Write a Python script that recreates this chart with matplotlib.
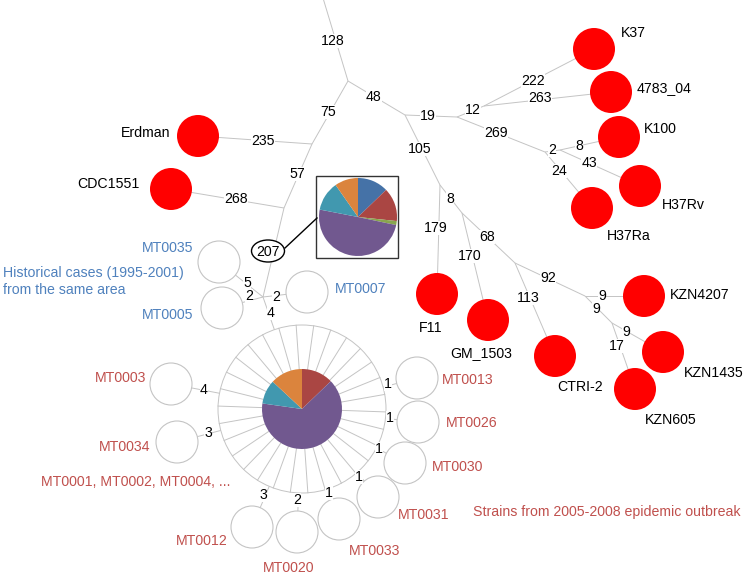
import matplotlib
matplotlib.use('Agg')
import matplotlib.pyplot as plt
from matplotlib.patches import Circle, Ellipse, Rectangle
import numpy as np

plt.rcParams['font.family'] = ['Liberation Sans', 'DejaVu Sans']

# ---------------- data ----------------
reference_strains = ['Erdman', 'CDC1551', 'K37', '4783_04', 'K100', 'H37Rv', 'H37Ra',
                     'F11', 'GM_1503', 'CTRI-2', 'KZN4207', 'KZN1435', 'KZN605']
historical_strains = ['MT0035', 'MT0005', 'MT0007']
outbreak_strains = ['MT0003', 'MT0034', 'MT0012', 'MT0020', 'MT0033',
                    'MT0031', 'MT0030', 'MT0026', 'MT0013']

# tree edges (from, to, SNP distance)
tree_edges = [
    ('top', 'J1', 128), ('J1', 'JL1', 75), ('JL1', 'Erdman', 235), ('JL1', 'JL2', 57),
    ('JL2', 'CDC1551', 268), ('JL2', 'JH', 207),
    ('J1', 'J2', 48), ('J2', 'J3', 19), ('J3', 'J4', 12), ('J4', 'K37', 222),
    ('J4', '4783_04', 263), ('J3', 'J5', 269), ('J5', 'J6', 2), ('J6', 'K100', 8),
    ('J6', 'H37Rv', 43), ('J5', 'H37Ra', 24),
    ('J2', 'J7', 105), ('J7', 'F11', 179), ('J7', 'J8', 8), ('J8', 'GM_1503', 170),
    ('J8', 'J9', 68), ('J9', 'CTRI-2', 113), ('J9', 'J10', 92), ('J10', 'KZN4207', 9),
    ('J10', 'J11', 9), ('J11', 'KZN1435', 9), ('J11', 'KZN605', 17),
    ('JH', 'MT0035', 5), ('JH', 'MT0005', 2), ('JH', 'MT0007', 2), ('JH', 'Hub', 4),
]
# outbreak strains linked to the central hub
hub_edges = [('MT0003', 4), ('MT0034', 3), ('MT0012', 3), ('MT0020', 2), ('MT0033', 1),
             ('MT0031', 1), ('MT0030', 1), ('MT0026', 1), ('MT0013', 1)]
n_hub_members = 30

# pie compositions (clockwise from 12 o'clock)
inset_pie_values = [46, 50, 6, 179, 44, 35]
hub_pie_values = [46, 232, 35, 47]

# ---------------- layout (pixels) ----------------
pos = {
    'top': (323, -2), 'J1': (348, 81), 'JL1': (312, 144), 'JL2': (284, 208), 'JH': (263, 297),
    'J2': (405, 115), 'J3': (457, 117), 'J4': (484, 106), 'J5': (545, 152), 'J6': (560, 150),
    'J7': (440, 185), 'J8': (462, 213), 'J9': (515, 263), 'J10': (585, 296), 'J11': (612, 323),
    'Erdman': (198, 136), 'CDC1551': (171, 189), 'K37': (594, 49), '4783_04': (611, 92),
    'K100': (619, 137), 'H37Rv': (640, 186), 'H37Ra': (592, 208), 'F11': (437, 294),
    'GM_1503': (488, 320), 'CTRI-2': (555, 356), 'KZN4207': (644, 296), 'KZN1435': (663, 352),
    'KZN605': (635, 389), 'MT0035': (219, 262), 'MT0005': (222, 308), 'MT0007': (307, 292),
    'MT0003': (171, 384), 'MT0034': (177, 442), 'MT0012': (252, 527), 'MT0020': (297, 532),
    'MT0033': (339, 519), 'MT0031': (378, 497), 'MT0030': (405, 463), 'MT0026': (418, 422),
    'MT0013': (417, 378), 'Hub': (302, 409),
}
pos = {k: (float(v[0]), float(v[1])) for k, v in pos.items()}
edge_label_pos = {
    ('top', 'J1'): (333, 41), ('J1', 'JL1'): (328, 112), ('JL1', 'Erdman'): (263, 141),
    ('JL1', 'JL2'): (297, 174), ('JL2', 'CDC1551'): (236, 199),
    ('J1', 'J2'): (374, 97), ('J2', 'J3'): (428, 116), ('J3', 'J4'): (473, 110),
    ('J4', 'K37'): (533, 81), ('J4', '4783_04'): (540, 98), ('J3', 'J5'): (496, 133),
    ('J5', 'J6'): (552, 150), ('J6', 'K100'): (579, 146), ('J6', 'H37Rv'): (589, 163),
    ('J5', 'H37Ra'): (559, 171), ('J2', 'J7'): (420, 149), ('J7', 'F11'): (436, 228),
    ('J7', 'J8'): (450, 199), ('J8', 'GM_1503'): (470, 256), ('J8', 'J9'): (487, 237),
    ('J9', 'CTRI-2'): (528, 298), ('J9', 'J10'): (548, 278), ('J10', 'KZN4207'): (602, 296),
    ('J10', 'J11'): (596, 309), ('J11', 'KZN1435'): (626, 332), ('J11', 'KZN605'): (617, 346),
    ('JH', 'MT0035'): (247, 283), ('JH', 'MT0005'): (249, 296), ('JH', 'MT0007'): (276, 297),
    ('JH', 'Hub'): (271, 313),
    ('Hub', 'MT0003'): (204, 390), ('Hub', 'MT0034'): (208, 433), ('Hub', 'MT0012'): (263, 495),
    ('Hub', 'MT0020'): (297, 500), ('Hub', 'MT0033'): (329, 493), ('Hub', 'MT0031'): (359, 477),
    ('Hub', 'MT0030'): (379, 449), ('Hub', 'MT0026'): (390, 418), ('Hub', 'MT0013'): (388, 384),
}
node_label_pos = {
    'Erdman': (170, 133, 'right'), 'CDC1551': (140, 184, 'right'), 'K37': (621, 33, 'left'),
    '4783_04': (637, 88, 'left'), 'K100': (644, 129, 'left'), 'H37Rv': (662, 205, 'left'),
    'H37Ra': (607, 236, 'left'), 'F11': (431, 328, 'center'), 'GM_1503': (481, 353, 'center'),
    'CTRI-2': (580, 387, 'center'), 'KZN4207': (670, 295, 'left'), 'KZN1435': (714, 373, 'center'),
    'KZN605': (671, 420, 'center'),
    'MT0035': (193, 248, 'right'), 'MT0005': (193, 315, 'right'), 'MT0007': (335, 289, 'left'),
    'MT0003': (146, 378, 'right'), 'MT0034': (150, 447, 'right'), 'MT0012': (228, 541, 'right'),
    'MT0020': (289, 568, 'center'), 'MT0033': (375, 551, 'center'), 'MT0031': (398, 515, 'left'),
    'MT0030': (432, 467, 'left'), 'MT0026': (446, 423, 'left'), 'MT0013': (442, 380, 'left'),
}

NODE_R = 21
RING_R = 84
HUB_PIE_R = 40
INSET_C = (358, 217)
INSET_R = 39

EDGE_C = '#c4c4c4'
BLUE_T = '#4f81bd'
RED_T = '#c0504d'
FS = 10.2
pie_colors_inset = ['#4572a7', '#aa4643', '#89a54e', '#71588f', '#4198af', '#db843d']
pie_colors_hub = ['#aa4643', '#71588f', '#4198af', '#db843d']

fig = plt.figure(figsize=(7.48, 5.78), dpi=100)
ax = fig.add_axes([0, 0, 1, 1])


def lbl(x, y, s, color='black', ha='center', z=6, bg=True):
    kw = dict(fontsize=FS, color=color, ha=ha, va='center', zorder=z)
    if bg:
        kw['bbox'] = dict(facecolor='white', edgecolor='none', pad=0.3)
    ax.text(x, y, s, **kw)


def unit(dx, dy):
    d = np.hypot(dx, dy)
    return dx / d, dy / d


hx, hy = pos['Hub']

# tree edges
for a, b, w in tree_edges:
    xa, ya = pos[a]
    xb, yb = pos[b]
    if b == 'Hub':
        ux, uy = unit(xa - hx, ya - hy)
        xb, yb = hx + RING_R * ux, hy + RING_R * uy
    ax.plot([xa, xb], [ya, yb], color=EDGE_C, lw=0.7, zorder=1, solid_capstyle='butt')
    if w == 207:
        continue
    lx, ly = edge_label_pos[(a, b)]
    lbl(lx, ly, str(w))

# 207 highlighted label
ax.add_patch(Ellipse((268, 251), 33, 22, facecolor='white', edgecolor='black', lw=1.0, zorder=5))
ax.text(268, 251.5, '207', fontsize=FS, ha='center', va='center', zorder=6)
ax.plot([285, 317], [248, 218], color='black', lw=1.0, zorder=5)

# hub ring + spokes
ax.add_patch(Circle((hx, hy), RING_R, facecolor='white', edgecolor=EDGE_C, lw=0.7, zorder=2))
ang = np.deg2rad(np.arange(n_hub_members) * 360.0 / n_hub_members + 94)
for t in ang:
    ax.plot([hx + HUB_PIE_R * np.cos(t), hx + RING_R * np.cos(t)],
            [hy - HUB_PIE_R * np.sin(t), hy - RING_R * np.sin(t)],
            color=EDGE_C, lw=0.7, zorder=2)

# hub edges
for name, w in hub_edges:
    x, y = pos[name]
    ux, uy = unit(x - hx, y - hy)
    ax.plot([hx + RING_R * ux, x], [hy + RING_R * uy, y], color=EDGE_C, lw=0.7, zorder=1)
    lx, ly = edge_label_pos[('Hub', name)]
    lbl(lx, ly, str(w))

# nodes
for n in reference_strains:
    ax.add_patch(Circle(pos[n], NODE_R, facecolor='#ff0000', edgecolor='none', zorder=4))
    x, y, ha = node_label_pos[n]
    lbl(x, y, n, ha=ha, bg=False)
for n in historical_strains:
    ax.add_patch(Circle(pos[n], NODE_R, facecolor='white', edgecolor=EDGE_C, lw=0.8, zorder=4))
    x, y, ha = node_label_pos[n]
    lbl(x, y, n, color=BLUE_T, ha=ha, bg=False)
for n in outbreak_strains:
    ax.add_patch(Circle(pos[n], NODE_R, facecolor='white', edgecolor=EDGE_C, lw=0.8, zorder=4))
    x, y, ha = node_label_pos[n]
    lbl(x, y, n, color=RED_T, ha=ha, bg=False)

# pies (y axis is inverted: counterclock in data = clockwise on screen)
ax.pie(hub_pie_values, colors=pie_colors_hub, center=(hx, hy), radius=HUB_PIE_R,
       startangle=-90, counterclock=True, wedgeprops=dict(linewidth=0, zorder=3))
ax.add_patch(Rectangle((316, 176), 82, 82, facecolor='white', edgecolor='#333333', lw=1.0, zorder=3))
ax.pie(inset_pie_values, colors=pie_colors_inset, center=INSET_C, radius=INSET_R,
       startangle=-90, counterclock=True, wedgeprops=dict(linewidth=0, zorder=4))

# annotations
ax.text(3, 273, 'Historical cases (1995-2001)', fontsize=FS, color=BLUE_T, ha='left', va='center')
ax.text(3, 290, 'from the same area', fontsize=FS, color=BLUE_T, ha='left', va='center')
ax.text(136, 482, 'MT0001, MT0002, MT0004, ...', fontsize=FS, color=RED_T, ha='center', va='center')
ax.text(473, 512, 'Strains from 2005-2008 epidemic outbreak', fontsize=FS, color=RED_T,
        ha='left', va='center')

ax.set_xlim(0, 748)
ax.set_ylim(578, 0)
ax.set_aspect('auto')
ax.axis('off')
fig.savefig('out.png', dpi=100, facecolor='white')
